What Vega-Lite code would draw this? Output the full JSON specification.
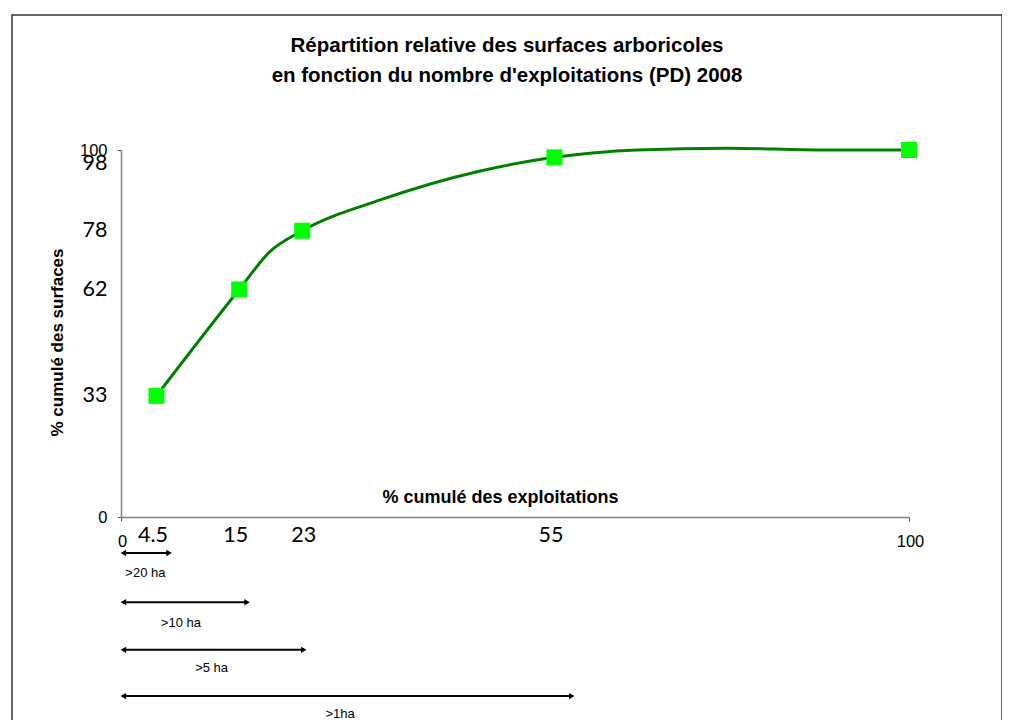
{
  "$schema": "https://vega.github.io/schema/vega-lite/v6.json",
  "width": 990,
  "height": 720,
  "autosize": "none",
  "padding": {"left": 12, "top": 15, "right": 0, "bottom": 0},
  "background": "white",
  "config": {
    "view": {"stroke": "#333333", "strokeWidth": 1.5},
    "font": "Liberation Sans"
  },
  "title": {
    "text": ["Répartition relative des surfaces arboricoles", "en fonction du nombre d'exploitations (PD) 2008"],
    "font": "Liberation Sans",
    "fontSize": 20.5,
    "fontWeight": "bold",
    "color": "#000000",
    "anchor": "middle",
    "frame": "group",
    "lineHeight": 30,
    "baseline": "middle",
    "dy": 85
  },
  "datasets": {
    "curve": [
      {"x": 4.5, "y": 33},
      {"x": 15, "y": 62},
      {"x": 18.9, "y": 72.3},
      {"x": 23, "y": 78},
      {"x": 32.9, "y": 86.4},
      {"x": 45.6, "y": 94.3},
      {"x": 55, "y": 98},
      {"x": 65.5, "y": 100},
      {"x": 77, "y": 100.5},
      {"x": 89, "y": 100},
      {"x": 100, "y": 100}
    ],
    "points": [
      {"x": 4.5, "y": 33},
      {"x": 15, "y": 62},
      {"x": 23, "y": 78},
      {"x": 55, "y": 98},
      {"x": 100, "y": 100}
    ],
    "arrows": [
      {"label": ">20 ha", "start": 0.3, "end": 6.1, "yline": -9.8, "xlab": 3.1, "ylab": -15.3},
      {"label": ">10 ha", "start": 0.3, "end": 16.0, "yline": -23.2, "xlab": 7.6, "ylab": -28.9},
      {"label": ">5 ha", "start": 0.3, "end": 23.2, "yline": -36.2, "xlab": 11.5, "ylab": -41.1},
      {"label": ">1ha", "start": 0.3, "end": 57.2, "yline": -48.8, "xlab": 27.8, "ylab": -53.7}
    ]
  },
  "layer": [
    {
      "data": {"name": "curve"},
      "mark": {"type": "line", "interpolate": "monotone", "color": "#008000", "strokeWidth": 3},
      "encoding": {
        "x": {
          "field": "x", "type": "quantitative",
          "scale": {"domain": [0, 100], "range": [109, 897], "zero": false, "nice": false},
          "axis": {
            "values": [0, 4.5, 15, 23, 55, 100],
            "format": ".3~g",
            "offset": -218,
            "grid": false,
            "labelOverlap": false,
            "labelFlush": false,
            "labelBound": false,
            "domainColor": "#808080",
            "domainWidth": 1.5,
            "tickColor": "#555555",
            "tickSize": 4,
            "tickOpacity": {"condition": {"test": "datum.value == 0 || datum.value == 100", "value": 1}, "value": 0},
            "labelColor": "#000000",
            "labelBaseline": "middle",
            "labelFont": {"condition": {"test": "datum.value == 0 || datum.value == 100", "value": "Liberation Sans"}, "value": "Lato"},
            "labelFontSize": {"condition": {"test": "datum.value == 0 || datum.value == 100", "value": 16.5}, "value": 21.5},
            "labelPadding": {"condition": {"test": "datum.value == 0 || datum.value == 100", "value": 20}, "value": 14},
            "labelOffset": {"condition": {"test": "datum.value == 0 || datum.value == 23 || datum.value == 100", "value": 1}, "value": -4},
            "title": "% cumulé des exploitations",
            "titleFont": "Liberation Sans",
            "titleFontSize": 18,
            "titleFontWeight": "bold",
            "titleColor": "#000000",
            "titleX": 488,
            "titleY": -20,
            "titleBaseline": "middle",
            "titleAlign": "center"
          }
        },
        "y": {
          "field": "y", "type": "quantitative",
          "scale": {"domain": [0, 100], "range": [502, 135], "zero": false, "nice": false},
          "axis": {
            "values": [0, 33, 62, 78, 98, 100],
            "offset": -109,
            "grid": false,
            "labelOverlap": false,
            "labelBound": false,
            "labelFlush": false,
            "domainColor": "#808080",
            "domainWidth": 1.5,
            "tickColor": "#555555",
            "tickSize": 4,
            "tickOpacity": {"condition": {"test": "datum.value == 0 || datum.value == 100", "value": 1}, "value": 0},
            "labelColor": "#000000",
            "labelBaseline": "middle",
            "labelFont": {"condition": {"test": "datum.value == 0 || datum.value == 100", "value": "Liberation Sans"}, "value": "Lato"},
            "labelFontSize": {"condition": {"test": "datum.value == 0 || datum.value == 100", "value": 16.5}, "value": 21.5},
            "labelPadding": 10,
            "labelOffset": {"condition": {"test": "datum.value == 98", "value": 6}, "value": 0},
            "title": "% cumulé des surfaces",
            "titleFont": "Liberation Sans",
            "titleFontSize": 17,
            "titleFontWeight": "bold",
            "titleColor": "#000000",
            "titleX": -64,
            "titleY": 327,
            "titleBaseline": "middle",
            "titleAlign": "center",
            "titleAngle": -90
          }
        }
      }
    },
    {
      "data": {"name": "points"},
      "mark": {"type": "point", "shape": "square", "filled": true, "size": 256, "color": "#00ff00", "opacity": 1},
      "encoding": {
        "x": {"field": "x", "type": "quantitative"},
        "y": {"field": "y", "type": "quantitative"}
      }
    },
    {
      "data": {"name": "arrows"},
      "mark": {"type": "rule", "color": "#000000", "strokeWidth": 2},
      "encoding": {
        "x": {"field": "start", "type": "quantitative"},
        "x2": {"field": "end"},
        "y": {"field": "yline", "type": "quantitative"}
      }
    },
    {
      "data": {"name": "arrows"},
      "mark": {"type": "point", "shape": "triangle-left", "filled": true, "size": 40, "color": "#000000", "opacity": 1},
      "encoding": {
        "x": {"field": "start", "type": "quantitative"},
        "y": {"field": "yline", "type": "quantitative"}
      }
    },
    {
      "data": {"name": "arrows"},
      "mark": {"type": "point", "shape": "triangle-right", "filled": true, "size": 40, "color": "#000000", "opacity": 1},
      "encoding": {
        "x": {"field": "end", "type": "quantitative"},
        "y": {"field": "yline", "type": "quantitative"}
      }
    },
    {
      "data": {"name": "arrows"},
      "mark": {"type": "text", "font": "Liberation Sans", "fontSize": 13, "color": "#000000", "align": "center", "baseline": "middle"},
      "encoding": {
        "x": {"field": "xlab", "type": "quantitative"},
        "y": {"field": "ylab", "type": "quantitative"},
        "text": {"field": "label"}
      }
    }
  ]
}
